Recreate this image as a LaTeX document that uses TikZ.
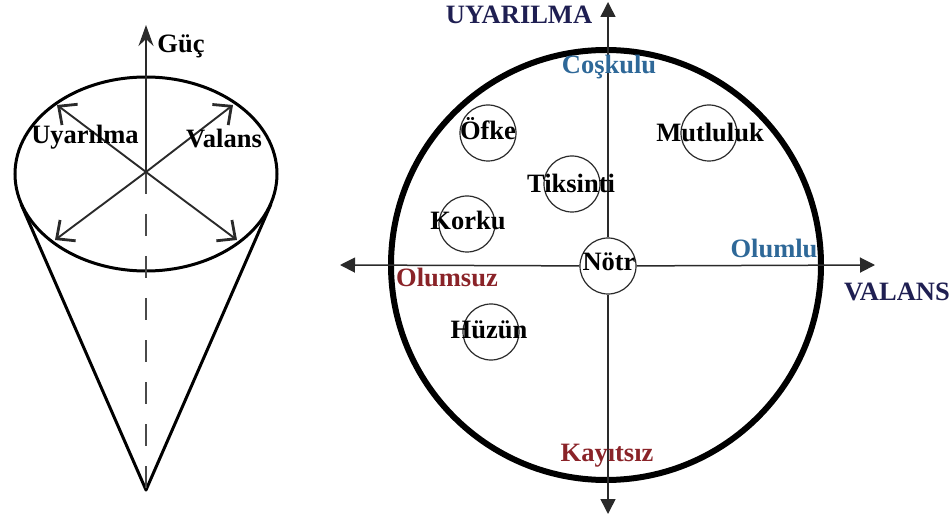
\documentclass[tikz,border=0pt]{standalone}
\usepackage{fontspec}
\setmainfont{Liberation Serif}
\usetikzlibrary{arrows.meta}
\definecolor{axisnavy}{HTML}{1F1F52}
\definecolor{posblue}{HTML}{2E6898}
\definecolor{negred}{HTML}{8A2328}
\definecolor{lineg}{HTML}{2A2A2A}

\tikzset{
  conearrow/.style={draw=lineg, line width=1.9pt, -{Straight Barb[length=14pt,width=26pt,line width=2.8pt]}},
  axisarrow/.style={draw=lineg, line width=1.5pt, -{Triangle[length=15pt,width=15pt]}},
  emo/.style={circle, draw=lineg, line width=1.2pt, minimum size=56pt, inner sep=0pt},
  word/.style={inner sep=0pt, text height=0.68em, text depth=0.2em}
}

\begin{document}
\begin{tikzpicture}[x=1pt, y=-1pt, font=\fontsize{26.5}{30}\selectfont\bfseries]
  \useasboundingbox (0,0) rectangle (952,518);

  % cone: rim, sides, dashed axis
  \coordinate (hub) at (146,172);
  \coordinate (apex) at (146,490);
  \coordinate (rimL) at (21,204);
  \coordinate (rimR) at (271,204);
  \draw[line width=3pt] (146,174) ellipse [x radius=131, y radius=97];
  \draw[line width=3pt, line join=round] (rimL) -- (apex) -- (rimR);
  \draw[lineg!85, line width=2.4pt, dash pattern=on 22pt off 20pt] (hub) -- (apex);

  % the three directions inside the rim
  \coordinate (gtip) at (146,25);
  \coordinate (ul) at (57,105);
  \coordinate (ur) at (233,105);
  \coordinate (ll) at (55,240);
  \coordinate (lr) at (237,240);
  \draw[lineg, line width=2.2pt, -{Stealth[length=21pt,width=15pt,inset=7pt]}] (hub) -- (gtip);
  \foreach \t in {ul,ur,ll,lr} {
    \draw[conearrow] (hub) -- (\t);
  }
  \node[word] (guc) at (181,50) {Güç};
  \node[word] (uyar) at (85,141) {Uyarılma};
  \node[word] (val) at (224,145) {Valans};

  % circumplex
  \draw[line width=6pt] (606,265) circle (215);
  \node[emo] (notr) at (608,266) {};
  \node[word] (notrtext) at (609,268) {Nötr};
  \coordinate (ytop) at (608,2);
  \coordinate (ybot) at (608,514);
  \coordinate (xleft) at (340,265);
  \coordinate (xright) at (875,265);
  \draw[axisarrow] (notr) -- (ytop);
  \draw[axisarrow] (notr) -- (ybot);
  \draw[axisarrow] (notr) -- (xleft);
  \draw[axisarrow] (notr) -- (xright);

  \node[word, text=axisnavy] (uyarilma) at (519,21) {UYARILMA};
  \node[word, text=axisnavy] (valans) at (897,298) {VALANS};
  \node[word, text=posblue] (coskulu) at (609,71) {Coşkulu};
  \node[word, text=posblue] (olumlu) at (774,255) {Olumlu};
  \node[word, text=negred] (olumsuz) at (447,284) {Olumsuz};
  \node[word, text=negred] (kayitsiz) at (607,459) {Kayıtsız};

  % emotions
  \foreach \n/\x/\y in {ofke/488/133, tiksinti/572/184, korku/467/224, mutluluk/709/133, huzun/491/332} {
    \node[emo] (c\n) at (\x,\y) {};
  }
  \node[word] (ofke) at (488,137) {Öfke};
  \node[word] (tiksinti) at (571,190) {Tiksinti};
  \node[word] (korku) at (468,227) {Korku};
  \node[word] (mutluluk) at (710,139) {Mutluluk};
  \node[word] (huzun) at (489,336) {Hüzün};
\end{tikzpicture}
\end{document}
